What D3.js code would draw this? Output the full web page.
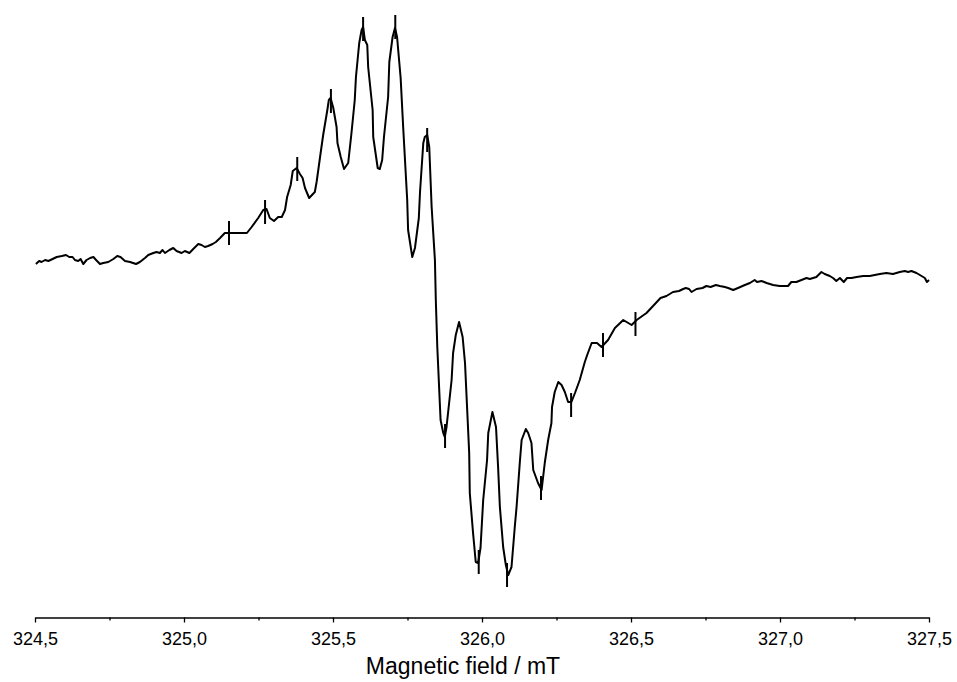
<!DOCTYPE html>
<html>
<head>
<meta charset="utf-8">
<script src="https://cdn.jsdelivr.net/npm/d3@7"></script>
<style>
  html, body { margin: 0; padding: 0; background: #fff; }
  svg { display: block; }
</style>
</head>
<body>
<svg id="chart" width="957" height="682"></svg>
<script>
// Magnetic field (mT)
const field = [
  324.503,324.514,324.522,324.534,324.545,324.559,324.573,324.590,324.604,324.615,
  324.626,324.634,324.645,324.653,324.662,324.673,324.685,324.696,324.705,324.718,
  324.729,324.746,324.763,324.776,324.787,324.802,324.819,324.839,324.852,324.869,
  324.880,324.897,324.908,324.919,324.928,324.936,324.951,324.964,324.975,324.992,
  325.003,325.018,325.031,325.048,325.059,325.070,325.081,325.096,325.107,325.121,
  325.137,325.211,325.227,325.249,325.266,325.277,325.288,325.302,325.316,325.328,
  325.339,325.346,325.358,325.365,325.378,325.389,325.398,325.406,325.420,325.439,
  325.445,325.458,325.467,325.481,325.486,325.492,325.501,325.512,325.515,325.526,
  325.537,325.551,325.562,325.573,325.577,325.588,325.596,325.601,325.607,325.615,
  325.618,325.633,325.635,325.650,325.657,325.665,325.671,325.685,325.689,325.700,
  325.708,325.715,325.727,325.736,325.749,325.752,325.766,325.775,325.788,325.792,
  325.803,325.808,325.816,325.823,325.831,325.842,325.845,325.850,325.861,325.870,
  325.875,325.881,325.898,325.903,325.912,325.923,325.935,325.943,325.957,325.959,
  325.970,325.979,325.987,325.995,326.004,326.017,326.021,326.035,326.047,326.054,
  326.060,326.071,326.080,326.088,326.099,326.110,326.116,326.127,326.133,326.147,
  326.155,326.166,326.172,326.188,326.200,326.211,326.222,326.233,326.235,326.244,
  326.256,326.267,326.278,326.289,326.300,326.312,326.328,326.345,326.353,326.368,
  326.386,326.401,326.423,326.446,326.474,326.502,326.519,326.552,326.574,326.599,
  326.619,326.641,326.661,326.675,326.684,326.695,326.703,326.720,326.740,326.753,
  326.767,326.785,326.798,326.815,326.826,326.843,326.859,326.882,326.899,326.915,
  326.923,326.938,326.955,326.977,326.999,327.027,327.038,327.055,327.072,327.089,
  327.100,327.122,327.139,327.150,327.167,327.178,327.189,327.201,327.214,327.225,
  327.240,327.257,327.279,327.301,327.318,327.335,327.357,327.379,327.402,327.419,
  327.430,327.441,327.458,327.475,327.486,327.493,327.500
];
// EPR signal (first derivative, arbitrary units)
const signal = [
  36,39,38,40,39,41,43,44,45,43,
  43,40,39,41,36,40,42,43,40,36,
  37,38,41,44,43,39,38,36,38,42,
  45,47,48,47,50,47,50,52,49,47,
  49,47,51,56,55,53,54,56,58,62,
  67,67,73,82,90,91,82,79,83,83,
  90,103,115,129,132,126,122,112,102,108,
  118,146,165,190,200,202,192,173,157,143,
  131,137,167,200,223,257,270,273,260,255,
  233,190,163,132,131,140,163,203,238,263,
  272,263,222,170,100,70,43,52,82,108,
  157,163,165,153,93,40,0,-47,-120,-133,
  -137,-127,-80,-53,-35,-22,-37,-63,-153,-193,
  -233,-262,-263,-248,-200,-160,-133,-112,-127,-167,
  -207,-247,-265,-275,-267,-227,-207,-162,-140,-129,
  -133,-143,-170,-183,-190,-162,-140,-123,-107,-92,
  -82,-85,-92,-102,-102,-93,-80,-62,-55,-43,
  -43,-47,-40,-28,-20,-25,-20,-13,-6,2,
  4,8,9,11,12,11,8,11,12,14,
  13,15,14,13,12,10,12,15,17,20,
  18,19,17,15,14,14,18,18,20,22,
  21,23,28,26,24,22,19,22,18,22,
  22,23,24,24,25,26,27,26,28,29,
  28,29,27,24,22,18,20
];
// Line-position markers (field, signal level)
const markerField = [325.151,325.272,325.380,325.493,325.601,325.709,325.816,325.876,325.989,326.084,326.198,326.299,326.406,326.515];
const markerLevel = [67,88,131,199,271,273,160,-136,-262,-275,-188,-105,-45,-24];
const markerHalf = 12;

const majorTicks = [324.5,325.0,325.5,326.0,326.5,327.0,327.5];
const minorTicks = [324.75,325.25,325.75,326.25,326.75,327.25];
const xTitle = "Magnetic field / mT";

const svg = d3.select("#chart");
const x = d3.scaleLinear().domain([324.5, 327.5]).range([35, 929]);
const y = d3.scaleLinear().domain([-300, 300]).range([600, 0]);

const pts = field.map((f, i) => [f, signal[i]]);
svg.append("path")
  .datum(pts)
  .attr("fill", "none")
  .attr("stroke", "#000")
  .attr("stroke-width", 2)
  .attr("stroke-linejoin", "round")
  .attr("d", d3.line().x(d => x(d[0])).y(d => y(d[1])));

svg.append("g").selectAll("line")
  .data(markerField.map((f, i) => [f, markerLevel[i]]))
  .join("line")
  .attr("x1", d => x(d[0])).attr("x2", d => x(d[0]))
  .attr("y1", d => y(d[1] + markerHalf)).attr("y2", d => y(d[1] - markerHalf))
  .attr("stroke", "#000").attr("stroke-width", 2);

const fmt = v => d3.format(".1f")(v).replace(".", ",");
const axisY = 617.5;
const gx = svg.append("g").attr("transform", `translate(0,${axisY})`)
  .call(d3.axisBottom(x).tickValues(majorTicks).tickFormat(fmt).tickSize(5).tickSizeOuter(0).tickPadding(10));
gx.select(".domain").attr("stroke", "#000").attr("stroke-width", 1.3);
gx.selectAll(".tick line").attr("stroke", "#000").attr("stroke-width", 1.3);
gx.selectAll("text").attr("font-family", "Arial, 'Liberation Sans', sans-serif").attr("font-size", 18).attr("fill", "#000");

const gm = svg.append("g").attr("transform", `translate(0,${axisY})`)
  .call(d3.axisBottom(x).tickValues(minorTicks).tickFormat("").tickSize(3).tickSizeOuter(0));
gm.select(".domain").remove();
gm.selectAll(".tick line").attr("stroke", "#000").attr("stroke-width", 1.3);

svg.append("text")
  .attr("x", 463).attr("y", 674)
  .attr("text-anchor", "middle")
  .attr("font-family", "Arial, 'Liberation Sans', sans-serif")
  .attr("font-size", 23)
  .attr("fill", "#000")
  .text(xTitle);
</script>
</body>
</html>
